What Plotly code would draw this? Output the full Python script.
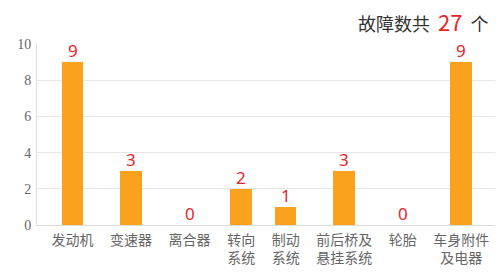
import plotly.graph_objects as go

# ---- data ----
category_lines = [["发动机"], ["变速器"], ["离合器"], ["转向", "系统"], ["制动", "系统"],
                  ["前后桥及", "悬挂系统"], ["轮胎"], ["车身附件", "及电器"]]
fault_counts = [9, 3, 0, 2, 1, 3, 0, 9]
y_tick_values = [0, 2, 4, 6, 8, 10]
title_prefix = "故障数共"
title_suffix = "个"

# ---- layout helpers: slot width follows label width (like the original chart) ----
CHAR_W = 14
GAP = 16.5
widths = [max(len(s) for s in lines) * CHAR_W for lines in category_lines]
positions = [0.0]
for i in range(1, len(widths)):
    positions.append(positions[-1] + (widths[i - 1] + widths[i]) / 2 + GAP)
tick_text = ["<br>".join(lines) for lines in category_lines]
total = sum(fault_counts)

W, H = 504, 276
L, R, T, B = 37, 9, 44, 47

fig = go.Figure()
fig.add_trace(go.Bar(
    x=positions, y=fault_counts, width=21.6,
    marker=dict(color="#FAA21E", line=dict(width=0)),
    hoverinfo="skip",
))

value_labels = [dict(
    x=px, y=v, xref="x", yref="y", text=str(v), showarrow=False,
    xanchor="center", yanchor="bottom", yshift=-1, borderpad=0,
    font=dict(family="Noto Sans", size=17, color="#E8262A"),
) for px, v in zip(positions, fault_counts)]

title = dict(
    xref="paper", yref="paper",
    x=(491 - L) / (W - L - R), y=(H - B - 20) / (H - T - B),
    xanchor="right", yanchor="middle", showarrow=False,
    text=(f"{title_prefix}&nbsp;&nbsp;<span style='font-size:22px;color:#E8262A'>{total}</span>"
          f"&nbsp;&nbsp;{title_suffix}"),
    font=dict(family="Noto Sans CJK SC", size=18, color="#333333"),
)

fig.update_layout(
    width=W, height=H, margin=dict(l=L, r=R, t=T, b=B),
    paper_bgcolor="white", plot_bgcolor="white", showlegend=False,
    bargap=0,
    xaxis=dict(
        range=[positions[0] - 35.5, positions[-1] + 33.7],
        tickmode="array", tickvals=positions, ticktext=tick_text,
        tickfont=dict(family="Noto Sans CJK SC", size=14, color="#666666"),
        showgrid=False, zeroline=False, showline=True, linecolor="#dddddd", linewidth=1,
        ticks="", ticklabelstandoff=2, fixedrange=True,
    ),
    yaxis=dict(
        range=[0, 10], tickmode="array", tickvals=y_tick_values,
        tickfont=dict(family="Liberation Serif", size=14, color="#666666"),
        showgrid=True, gridcolor="#e6e6e6", gridwidth=1,
        zeroline=False, showline=True, linecolor="#dddddd", linewidth=1,
        ticks="", ticklabelstandoff=2, fixedrange=True,
    ),
    annotations=value_labels + [title],
)

fig.write_html("out.html", config={"displayModeBar": False})
